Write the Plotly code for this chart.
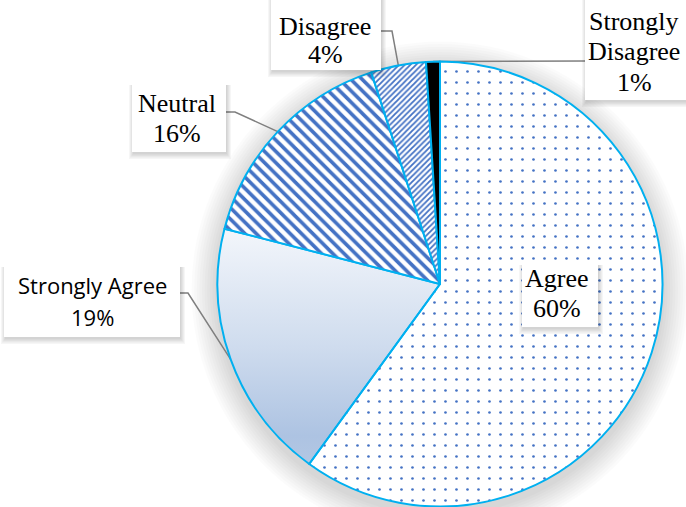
import math
import plotly.graph_objects as go

# Survey responses, slices listed clockwise from 12 o'clock
labels = ["Agree", "Strongly Agree", "Neutral", "Disagree", "Strongly Disagree"]
values = [60, 19, 16, 4, 1]

# How each category name is wrapped inside its callout box
name_lines = {
    "Agree": ["Agree"],
    "Strongly Agree": ["Strongly Agree"],
    "Neutral": ["Neutral"],
    "Disagree": ["Disagree"],
    "Strongly Disagree": ["Strongly", "Disagree"],
}

# ---- canvas and pie geometry (pixels) ----
W, H = 686, 507
CX, CY, R = 440, 284, 222.5

EDGE = "#00b0f0"
HATCH = "#4472c4"
SERIF = dict(family="Liberation Serif, Times New Roman, serif", size=26, color="#000000")
SANS = dict(family="Open Sans, Noto Sans, sans-serif", size=22, color="#000000")

# Callout boxes: box rectangle, text centre, first line centre, line step,
# font, and the box-side points of the leader line
callouts = {
    "Agree": dict(box=(522, 263, 598, 327), cx=557, y0=278, dy=30, font=SERIF, lead=None),
    "Strongly Agree": dict(box=(4, 265, 180, 337), cx=92, y0=285, dy=32, font=SANS,
                           lead=[(180, 293), (188, 293)]),
    "Neutral": dict(box=(132, 83, 226, 152), cx=177, y0=103, dy=30, font=SERIF,
                    lead=[(226, 112), (235, 112)]),
    "Disagree": dict(box=(271, -8, 381, 70), cx=325, y0=26, dy=28, font=SERIF,
                     lead=[(381, 31), (392, 31)]),
    "Strongly Disagree": dict(box=(585, -8, 694, 100), cx=634, y0=21, dy=30.5, font=SERIF,
                              lead=[(585, 61)]),
}

total = float(sum(values))
fractions = [v / total for v in values]
starts = []
acc = 0.0
for f in fractions:
    starts.append(acc)
    acc += f


def rim_point(frac, r=R):
    """Point on the pie rim at a cumulative fraction, clockwise from the top."""
    a = 2 * math.pi * frac
    return CX + r * math.sin(a), CY - r * math.cos(a)


fig = go.Figure()

# Vertical gradient fill for the "Strongly Agree" wedge (drawn under the pie layer),
# pale at the top and deepening towards the bottom
sa = labels.index("Strongly Agree")
f0, f1 = starts[sa], starts[sa] + fractions[sa]
n = 80
wx, wy = [CX], [CY]
for i in range(n + 1):
    px, py = rim_point(f0 + (f1 - f0) * i / n)
    wx.append(px)
    wy.append(py)
wx.append(CX)
wy.append(CY)
fig.add_trace(go.Scatter(
    x=wx, y=wy, mode="lines", fill="toself", line=dict(width=0, color="rgba(0,0,0,0)"),
    fillgradient=dict(type="vertical",
                      colorscale=[[0, "#b3c7e3"], [0.12, "#adc3e2"], [0.5, "#cfdcee"], [1, "#f3f6fb"]]),
    hoverinfo="skip", showlegend=False,
))

# Leader lines from the callout boxes to the middle of each slice's arc
lx, ly = [], []
for lab, frac0, frac in zip(labels, starts, fractions):
    lead = callouts[lab]["lead"]
    if not lead:
        continue
    ex, ey = rim_point(frac0 + frac / 2)
    for px, py in lead:
        lx.append(px)
        ly.append(py)
    lx += [ex, None]
    ly += [ey, None]
fig.add_trace(go.Scatter(x=lx, y=ly, mode="lines", line=dict(color="#7f7f7f", width=1.5),
                         hoverinfo="skip", showlegend=False))

# The pie itself
fig.add_trace(go.Pie(
    labels=labels, values=values, sort=False, direction="clockwise", rotation=0,
    textinfo="none", hoverinfo="label+percent", showlegend=False,
    marker=dict(
        colors=["white", "rgba(0,0,0,0)", "white", "white", "black"],
        line=dict(color=EDGE, width=2),
        pattern=dict(
            shape=[".", "", "\\", "/", ""],
            fgcolor=[HATCH, HATCH, HATCH, HATCH, "black"],
            bgcolor=["white", "rgba(0,0,0,0)", "white", "white", "black"],
            size=[11, 8, 8, 4, 8],
            solidity=[0.045, 0.3, 0.45, 0.45, 0.3],
        ),
    ),
    domain=dict(x=[(CX - R) / W, (CX + R) / W], y=[1 - (CY + R) / H, 1 - (CY - R) / H]),
))

shapes = []
# Soft drop shadow under the pie
for k in range(1, 11):
    rr = R + 2.6 * k
    shapes.append(dict(type="circle", xref="x", yref="y", layer="below",
                       x0=CX - rr, x1=CX + rr, y0=CY + 6 - rr, y1=CY + 6 + rr,
                       fillcolor="rgba(0,0,0,0.017)", line=dict(width=0)))

annotations = []
for lab, v in zip(labels, values):
    c = callouts[lab]
    x0, y0, x1, y1 = c["box"]
    # box shadow
    for k in range(1, 6):
        shapes.append(dict(type="rect", xref="x", yref="y", layer="above",
                           x0=x0 - k + 2, x1=x1 + k, y0=y0 + 2, y1=y1 + 1.2 * k + 1,
                           fillcolor="rgba(0,0,0,0.035)", line=dict(width=0)))
    shapes.append(dict(type="rect", xref="x", yref="y", layer="above",
                       x0=x0, x1=x1, y0=y0, y1=y1,
                       fillcolor="white", line=dict(width=0)))
    pct = round(100 * v / total)
    lines = name_lines[lab] + [f"{pct}%"]
    for i, t in enumerate(lines):
        annotations.append(dict(x=c["cx"], y=c["y0"] + i * c["dy"], xref="x", yref="y",
                                text=t, showarrow=False, font=c["font"],
                                xanchor="center", yanchor="middle"))

fig.update_layout(
    width=W, height=H, margin=dict(l=0, r=0, t=0, b=0),
    paper_bgcolor="white", plot_bgcolor="white",
    xaxis=dict(range=[0, W], visible=False, fixedrange=True, domain=[0, 1]),
    yaxis=dict(range=[H, 0], visible=False, fixedrange=True, domain=[0, 1]),
    shapes=shapes, annotations=annotations, showlegend=False,
)

fig.write_html("out.html", config={"displayModeBar": False})
